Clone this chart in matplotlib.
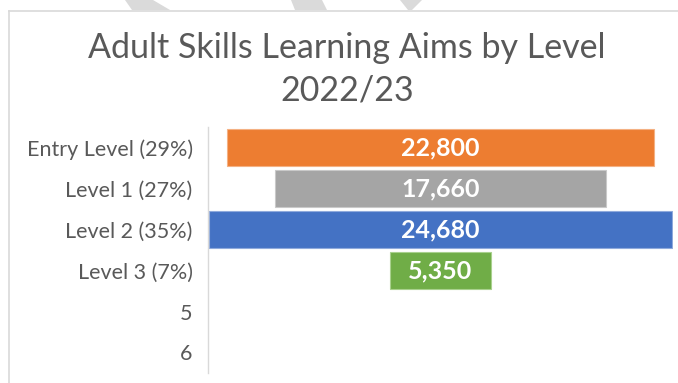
import numpy as np
import matplotlib.pyplot as plt
from matplotlib.lines import Line2D
from matplotlib.patches import Polygon

plt.rcParams['font.family'] = ['Lato', 'DejaVu Sans']

# funnel data
levels = ["Entry Level (29%)", "Level 1 (27%)", "Level 2 (35%)", "Level 3 (7%)", "5", "6"]
aims = [22800, 17660, 24680, 5350, 0, 0]
colours = ["#ED7D31", "#A5A5A5", "#4472C4", "#70AD47", "#FFFFFF", "#FFFFFF"]
edge_colours = ["#F4B183", "#C9C9C9", "#8FAADC", "#A9D18E", "#FFFFFF", "#FFFFFF"]

W, H = 678, 383
fig = plt.figure(figsize=(W / 100, H / 100), dpi=100)

# grey page strips showing above the chart frame
strips = [
    [(125, 0), (153, 0), (170, 10), (132, 10)],
    [(291, 0), (322, 0), (327, 10), (295, 10)],
    [(400, 0), (422, 0), (412, 10), (408, 10)],
]
for pts in strips:
    fig.patches.append(Polygon([(x / W, 1 - y / H) for x, y in pts],
                               closed=True, transform=fig.transFigure,
                               facecolor="#DADADA", edgecolor="none"))

# chart frame (top and left edges)
fig.lines.append(Line2D([8.5 / W, 1], [1 - 10.5 / H, 1 - 10.5 / H],
                        transform=fig.transFigure, color="#D9D9D9", lw=1.2))
fig.lines.append(Line2D([8.5 / W, 8.5 / W], [0, 1 - 10.5 / H],
                        transform=fig.transFigure, color="#D9D9D9", lw=1.2))

fig.text(347 / W, 1 - 58 / H, "Adult Skills Learning Aims by Level",
         ha="center", va="baseline", fontsize=24.5, color="#595959")
fig.text(347 / W, 1 - 101 / H, "2022/23",
         ha="center", va="baseline", fontsize=24.5, color="#595959")

ax = fig.add_axes([208 / W, 10 / H, 465 / W, 246 / H])
vals = np.array(aims, dtype=float)
ypos = np.arange(len(levels))
ax.barh(ypos, vals, left=-vals / 2, height=0.88, color=colours,
        edgecolor=edge_colours, linewidth=0.8)

for y, v in zip(ypos, aims):
    if v > 0:
        ax.text(0, y, f"{v:,}", ha="center", va="center", color="white",
                fontsize=18, fontweight="bold")

ax.set_xlim(-12400, 12400)
ax.set_ylim(len(levels) - 0.5, -0.5)
ax.set_yticks(ypos)
ax.set_yticklabels(levels, fontsize=15.5, color="#595959")
ax.tick_params(axis="y", length=0, pad=11)
ax.set_xticks([])
for side in ["top", "right", "bottom"]:
    ax.spines[side].set_visible(False)
ax.spines["left"].set_color("#D9D9D9")
ax.spines["left"].set_linewidth(1.0)

fig.savefig("out.png", dpi=100)
